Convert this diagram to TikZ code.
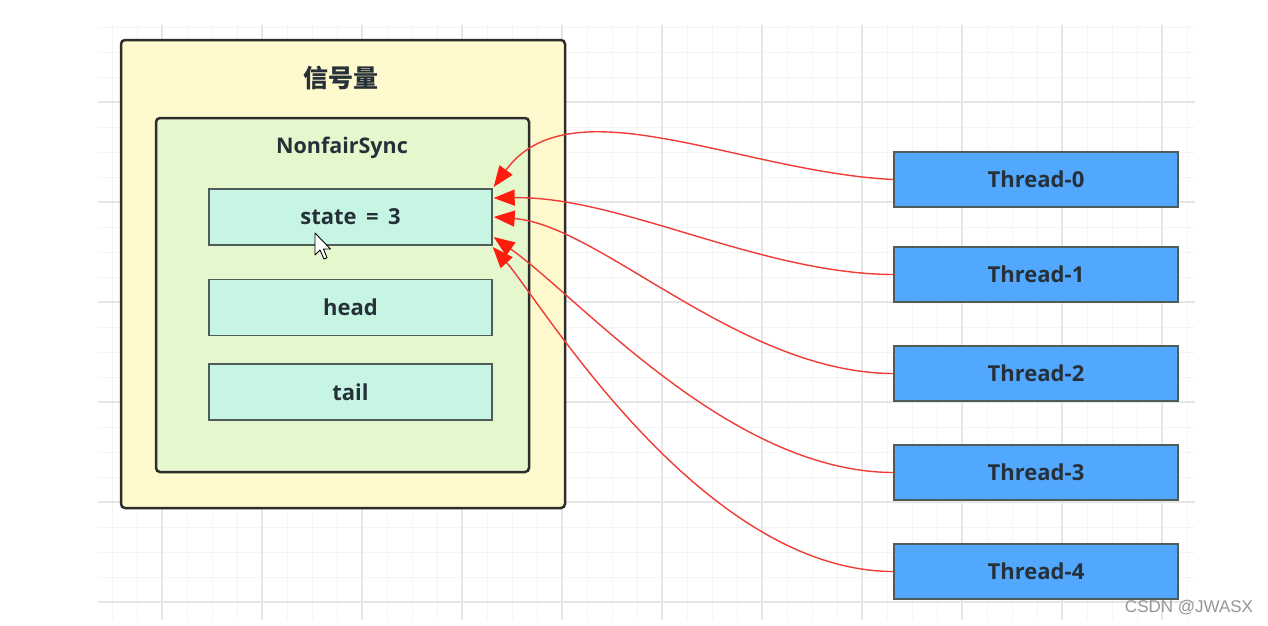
\documentclass[tikz,border=0pt]{standalone}
\usepackage{fontspec}
\setmainfont{Open Sans}
\newfontfamily\cjk{Noto Sans CJK SC}
\newfontfamily\wmfont{Liberation Sans}
\usetikzlibrary{arrows.meta}
\definecolor{outerfill}{RGB}{255,250,205}
\definecolor{innerfill}{RGB}{228,247,205}
\definecolor{cellfill}{RGB}{198,245,228}
\definecolor{thfill}{RGB}{82,168,255}
\definecolor{txt}{RGB}{38,48,56}
\definecolor{edgecol}{RGB}{45,45,45}
\definecolor{celledge}{RGB}{80,92,88}
\definecolor{lnred}{RGB}{240,60,55}
\definecolor{tipred}{RGB}{255,28,15}
\definecolor{gridmin}{RGB}{244,244,244}
\definecolor{gridmaj}{RGB}{230,230,230}
\definecolor{wmgray}{RGB}{150,150,150}
\tikzset{
  bigbox/.style={draw=edgecol, line width=2.5pt, rounded corners=4pt, inner sep=0pt},
  cellbox/.style={draw=celledge, line width=1.4pt, fill=cellfill, minimum width=283pt, minimum height=56pt, inner sep=0pt, text=txt, font=\bfseries\fontsize{22}{26}\selectfont},
  thbox/.style={draw=celledge, line width=1.4pt, fill=thfill, minimum width=284pt, minimum height=55pt, inner sep=0pt, text=txt, font=\bfseries\fontsize{22}{26}\selectfont},
  lbl/.style={text=txt, inner sep=0pt, font=\bfseries\fontsize{21.5}{26}\selectfont},
  conn/.style={draw=lnred, line width=1.4pt, -{Triangle[length=21pt,width=16pt,color=tipred]}}
}
\begin{document}
\begin{tikzpicture}[x=1pt,y=-1pt]
\useasboundingbox (0,0) rectangle (1268,625);
\fill[white] (0,0) rectangle (1268,625);
% grid
\foreach \gx in {112,137,...,1187} \draw[gridmin, line width=1pt] (\gx,25) -- (\gx,620);
\foreach \gy in {27,52,...,602} \draw[gridmin, line width=1pt] (98,\gy) -- (1195,\gy);
\foreach \gx in {162,262,...,1162} \draw[gridmaj, line width=1.1pt] (\gx,25) -- (\gx,620);
\foreach \gy in {102,202,...,602} \draw[gridmaj, line width=1.1pt] (98,\gy) -- (1195,\gy);
% containers
\node[bigbox, fill=outerfill, minimum width=444pt, minimum height=468pt] (outer) at (343,274) {};
\node[text=txt, inner sep=0pt, font=\cjk\bfseries\fontsize{25}{28}\selectfont] (title) at (341,78) {信号量};
\node[bigbox, fill=innerfill, minimum width=373pt, minimum height=354pt] (inner) at (342.5,295) {};
\node[lbl] (nfs) at (342,148) {NonfairSync};
\node[cellbox] (state) at (350.5,217) {state \,=\, 3};
\node[cellbox] (head) at (350.5,307.5) {head};
\node[cellbox] (tail) at (350.5,392) {tail};
% threads
\node[thbox] (T0) at (1036,179.5) {Thread-0};
\node[thbox] (T1) at (1036,274.5) {Thread-1};
\node[thbox] (T2) at (1036,373.5) {Thread-2};
\node[thbox] (T3) at (1036,472.5) {Thread-3};
\node[thbox] (T4) at (1036,571.5) {Thread-4};
% arrow end points on state box
\coordinate (e0) at ([xshift=1pt,yshift=30pt]state.east);
\coordinate (e1) at ([xshift=1pt,yshift=19pt]state.east);
\coordinate (e2) at ([xshift=1pt]state.east);
\coordinate (e3) at ([xshift=1pt,yshift=-20pt]state.east);
\coordinate (e4) at ([yshift=-30pt]state.east);
\draw[conn] (T0.west) .. controls (740,172) and (570,82) .. (e0);
\draw[conn] (T1.west) .. controls (760,274) and (620,196) .. (e1);
\draw[conn] (T2.west) .. controls (740,373) and (600,225) .. (e2);
\draw[conn] (T3.west) .. controls (730,472) and (580,298) .. (e3);
\draw[conn] (T4.west) .. controls (700,571) and (540,300) .. (e4);
% mouse cursor
\draw[black, line width=0.9pt, fill=white, line join=round]
  (315,233) -- ++(0,22) -- ++(5,-5) -- ++(4,9) -- ++(3,-1.2) -- ++(-3.5,-8.8) -- ++(7,0) -- cycle;
% watermark
\node[text=wmgray, inner sep=0pt, font=\wmfont\fontsize{17}{20}\selectfont] (wm) at (1189,608) {CSDN @JWASX};
\end{tikzpicture}
\end{document}
